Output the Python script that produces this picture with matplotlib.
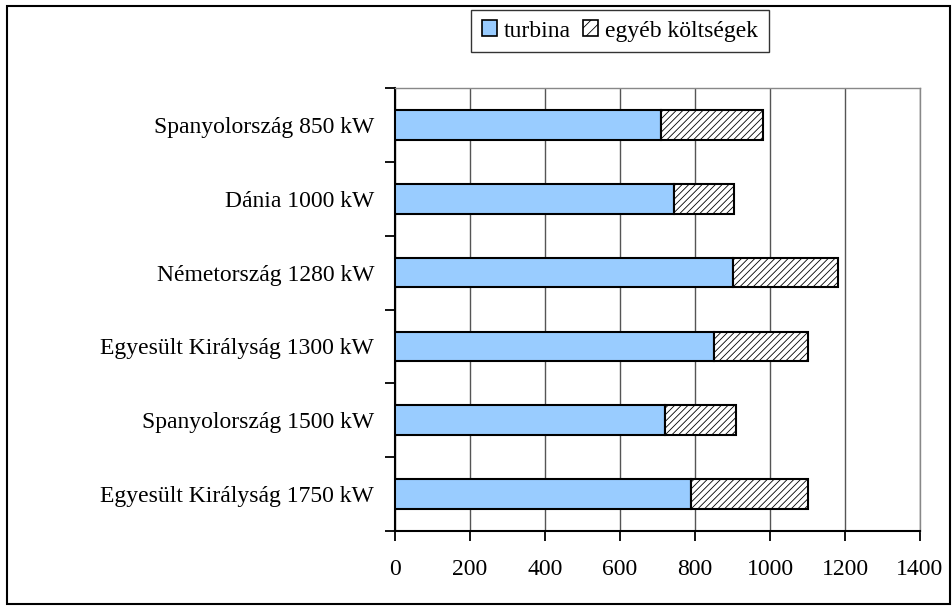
import matplotlib
matplotlib.use("Agg")
import matplotlib.pyplot as plt
from matplotlib.patches import Rectangle, Patch
import numpy as np

# Wind turbine installation cost (EUR/kW): turbine vs. other costs
categories = [
    "Spanyolország 850 kW",
    "Dánia 1000 kW",
    "Németország 1280 kW",
    "Egyesült Királyság 1300 kW",
    "Spanyolország 1500 kW",
    "Egyesült Királyság 1750 kW",
]
turbina = [710, 745, 900, 850, 720, 790]
egyeb = [270, 160, 280, 250, 190, 310]
x_ticks = [0, 200, 400, 600, 800, 1000, 1200, 1400]
legend_labels = ["turbina", "egyéb költségek"]

FS = 17

plt.rcParams["font.family"] = ["Liberation Serif", "DejaVu Serif"]
plt.rcParams["hatch.linewidth"] = 0.6
plt.rcParams["hatch.color"] = "#555555"

fig = plt.figure(figsize=(9.52, 6.07), dpi=100)
ax = fig.add_axes([395 / 952, 1 - 531 / 607, (920 - 395) / 952, (531 - 88) / 607])

y = np.arange(len(categories))
h = 0.4
ax.barh(y, turbina, height=h, color="#99ccff", edgecolor="black", linewidth=1.5, zorder=3)
ax.barh(y, egyeb, left=turbina, height=h, color="white", edgecolor="black",
        linewidth=1.5, hatch="/////", zorder=3)

ax.set_xlim(0, 1400)
ax.set_ylim(len(categories) - 0.5, -0.5)
ax.set_xticks(x_ticks)
ax.set_xticklabels([str(t) for t in x_ticks], fontsize=FS)

# category labels at bar centers, tick marks at category boundaries
ax.set_yticks(y)
ax.set_yticklabels(categories, fontsize=FS)
ax.tick_params(axis="y", which="major", length=0, pad=15)
ax.set_yticks(np.arange(-0.5, len(categories), 1), minor=True)
ax.tick_params(axis="y", which="minor", length=7, width=1.3, direction="out", color="black")
ax.tick_params(axis="x", which="major", length=7, width=1.3, direction="out", pad=13)

ax.xaxis.grid(True, color="#555555", linewidth=1.0, zorder=0)
ax.set_axisbelow(True)
for side in ("top", "right"):
    ax.spines[side].set_color("#888888")
    ax.spines[side].set_linewidth(1.0)
for side in ("left", "bottom"):
    ax.spines[side].set_color("black")
    ax.spines[side].set_linewidth(1.5)

handles = [
    Patch(facecolor="#99ccff", edgecolor="black", linewidth=1.2),
    Patch(facecolor="white", edgecolor="black", linewidth=1.2, hatch="///"),
]
leg = fig.legend(handles, legend_labels, loc="center", ncol=2,
                 bbox_to_anchor=(620 / 952, 1 - 31 / 607), fontsize=FS,
                 frameon=True, fancybox=False, edgecolor="black",
                 handlelength=0.65, handleheight=0.65, handletextpad=0.3,
                 columnspacing=0.5, borderpad=0.45, borderaxespad=0)
leg.get_frame().set_linewidth(1.0)

fig.patches.append(Rectangle((7 / 952, 1 - 604 / 607), (950 - 7) / 952, (604 - 6) / 607,
                             transform=fig.transFigure, fill=False,
                             edgecolor="black", linewidth=1.5))

fig.savefig("out.png", dpi=100)
